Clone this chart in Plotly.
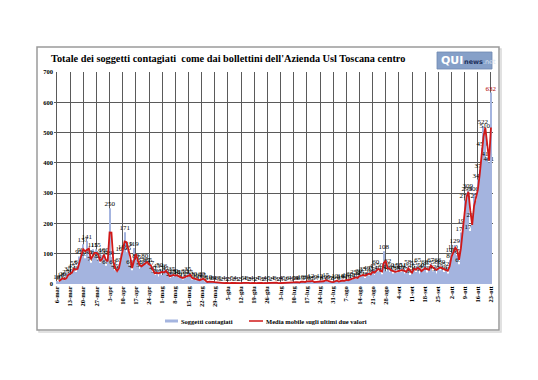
import plotly.graph_objects as go
import pandas as pd

start_date = "2020-03-06"
end_date = "2020-10-23"

# Daily new infected subjects (estimated)
values = [
    10, 8, 18, 20, 12, 25, 35,
    30, 45, 55, 40, 60, 91, 98,
    131, 85, 141, 93, 70, 115, 90,
    115, 80, 70, 95, 100, 60, 90,
    250, 89, 60, 45, 40, 65, 103,
    110, 171, 105, 119, 60, 45, 119,
    80, 75, 50, 67, 60, 80, 65,
    65, 57, 40, 30, 45, 25, 50,
    30, 46, 41, 30, 20, 35, 25,
    30, 28, 20, 25, 15, 30, 20,
    35, 25, 15, 20, 12, 15, 10,
    20, 15, 8, 5, 10, 6, 8,
    4, 6, 3, 5, 2, 4, 3,
    2, 3, 5, 2, 4, 3, 2,
    3, 5, 4, 6, 2, 3, 4,
    3, 2, 4, 5, 3, 2, 4,
    3, 5, 2, 4, 6, 3, 2,
    4, 3, 5, 2, 6, 4, 3,
    5, 8, 4, 6, 10, 5, 7,
    10, 6, 12, 8, 5, 9, 7,
    12, 8, 10, 15, 6, 9, 5,
    8, 12, 10, 6, 14, 9, 12,
    15, 10, 20, 14, 25, 18, 22,
    30, 25, 35, 20, 40, 28, 35,
    45, 30, 60, 40, 50, 32, 108,
    42, 62, 40, 50, 35, 45, 38,
    50, 40, 51, 35, 45, 58, 30,
    45, 55, 40, 65, 35, 50, 45,
    60, 38, 55, 67, 42, 58, 35,
    66, 45, 60, 40, 52, 35, 80,
    100, 110, 129, 95, 65, 170, 196,
    276, 299, 309, 175, 215, 300, 276,
    345, 377, 450, 522, 510, 415, 401, 632,
]

tick_labels = ["6-mar", "13-mar", "20-mar", "27-mar", "3-apr", "10-apr", "17-apr",
               "24-apr", "1-mag", "8-mag", "15-mag", "22-mag", "29-mag", "5-giu",
               "12-giu", "19-giu", "26-giu", "3-lug", "10-lug", "17-lug", "24-lug",
               "31-lug", "7-ago", "14-ago", "21-ago", "28-ago", "4-set", "11-set",
               "18-set", "25-set", "2-ott", "9-ott", "16-ott", "23-ott"]

title_text = "Totale dei soggetti contagiati  come dai bollettini dell'Azienda Usl Toscana centro"
bar_name = "Soggetti contagiati"
line_name = "Media mobile sugli ultimi due valori"

dates = pd.date_range(start_date, end_date, freq="D")
tick_dates = pd.date_range(start_date, end_date, freq="7D")
moving_avg = [None] + [(values[i - 1] + values[i]) / 2 for i in range(1, len(values))]

serif = "Liberation Serif"
label_colors = ["black"] * (len(values) - 1) + ["#b00000"]

# page offset (browser body margin) compensation
OFF = 8
W, H = 538 - OFF, 380 - OFF
# plot area in screen pixels: x 54..493, y 72..284
L = 54 - OFF
T = 72 - OFF
R = W - (493 - OFF)
B = H - (284 - OFF)
pw, ph = W - L - R, H - T - B


def px(xs):
    return (xs - OFF - L) / pw


def py(ys):
    return (H - B - (ys - OFF)) / ph


fig = go.Figure()
fig.add_trace(go.Bar(
    x=dates, y=values, name=bar_name,
    marker=dict(color="#a4b4df", line=dict(width=0)),
    text=[str(v) for v in values], textposition="outside",
    textfont=dict(family=serif, size=7, color=label_colors),
    constraintext="none", cliponaxis=False,
    showlegend=False,
))
fig.add_trace(go.Scatter(
    x=dates, y=moving_avg, mode="lines", name=line_name,
    line=dict(color="#d01818", width=1.8),
    showlegend=False,
))

x0 = dates[0] - pd.Timedelta(hours=38)
x1 = dates[-1] + pd.Timedelta(hours=26)

shapes = [
    # shadow of frame
    dict(type="rect", xref="paper", yref="paper",
         x0=px(39), x1=px(501), y0=py(332), y1=py(49),
         line=dict(color="#d8d8d8", width=1.5), layer="below"),
    dict(type="rect", xref="paper", yref="paper",
         x0=px(37), x1=px(499), y0=py(330), y1=py(47),
         line=dict(color="#9a9a9a", width=1.5), fillcolor="white", layer="below"),
    dict(type="rect", xref="paper", yref="paper",
         x0=px(437), x1=px(492), y0=py(69), y1=py(52),
         line=dict(color="#6f88b0", width=0.8), fillcolor="#86a0c8"),
    dict(type="line", xref="paper", yref="paper",
         x0=px(165), x1=px(178), y0=py(321), y1=py(321),
         line=dict(color="#a4b4df", width=3)),
    dict(type="line", xref="paper", yref="paper",
         x0=px(249), x1=px(263), y0=py(321), y1=py(321),
         line=dict(color="#d01818", width=1.5)),
]

annotations = [
    dict(text="<b>" + title_text + "</b>", xref="paper", yref="paper",
         x=px(49), y=py(59), xanchor="left", yanchor="middle", showarrow=False,
         font=dict(family=serif, size=10.3, color="black")),
    dict(text="<b>QUI</b>", xref="paper", yref="paper",
         x=px(439), y=py(60.5), xanchor="left", yanchor="middle", showarrow=False,
         font=dict(family="DejaVu Sans", size=11, color="white")),
    dict(text="<b>news</b><span style='color:#d4e0f0'>.net</span>", xref="paper", yref="paper",
         x=px(462), y=py(61.5), xanchor="left", yanchor="middle", showarrow=False,
         font=dict(family="DejaVu Sans", size=6.5, color="#1c2f5a")),
    dict(text="<b>" + bar_name + "</b>", xref="paper", yref="paper",
         x=px(179), y=py(321), xanchor="left", yanchor="middle", showarrow=False,
         font=dict(family=serif, size=6.5, color="black")),
    dict(text="<b>" + line_name + "</b>", xref="paper", yref="paper",
         x=px(264), y=py(321), xanchor="left", yanchor="middle", showarrow=False,
         font=dict(family=serif, size=6.5, color="black")),
]

fig.update_layout(
    width=W, height=H,
    margin=dict(l=L, r=R, t=T, b=B),
    paper_bgcolor="white", plot_bgcolor="white",
    bargap=0.42,
    font=dict(family=serif, color="black"),
    xaxis=dict(
        range=[x0, x1],
        tickvals=tick_dates, ticktext=tick_labels,
        tickangle=-90,
        tickfont=dict(family=serif, size=6.5, color="black", weight="bold"),
        showgrid=True, gridcolor="#5a5a5a", gridwidth=0.8,
        showline=False, ticks="", zeroline=False,
    ),
    yaxis=dict(
        range=[0, 700], dtick=100,
        tickfont=dict(family=serif, size=6.5, color="black", weight="bold"),
        showgrid=True, gridcolor="#5a5a5a", gridwidth=0.8,
        showline=False, zeroline=False, ticks="",
    ),
    shapes=shapes,
    annotations=annotations,
)

fig.write_html("out.html")
